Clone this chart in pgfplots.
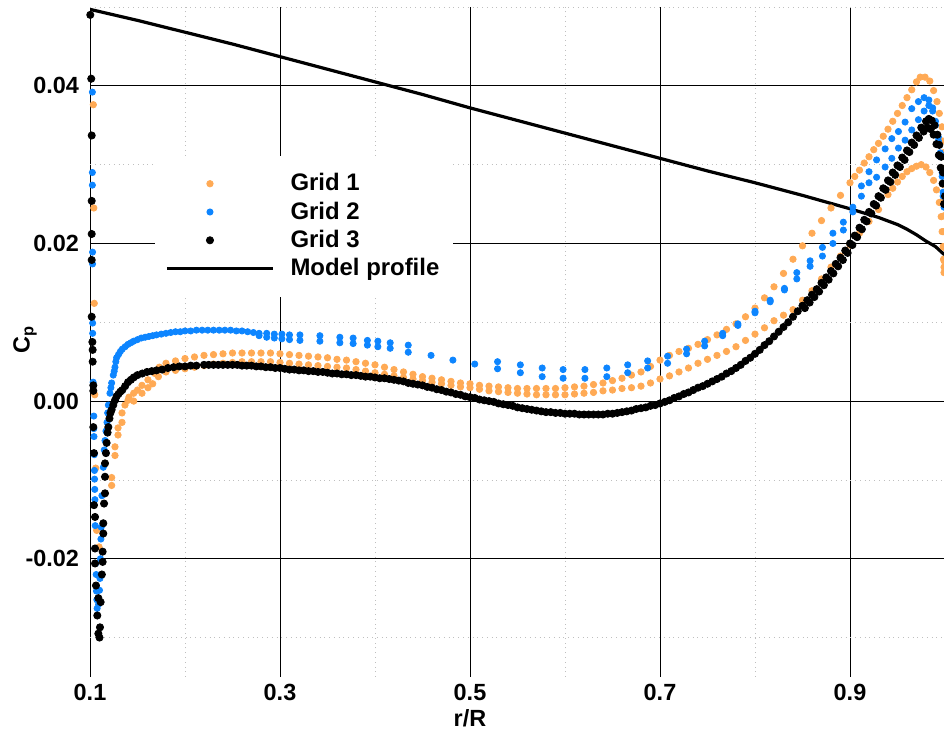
\documentclass[border=0pt]{standalone}
\usepackage{pgfplots}
\usepackage{pgfplotstable}
\pgfplotsset{compat=1.18}
\usepackage{fontspec}
\setmainfont{Liberation Sans}
\setsansfont{Liberation Sans}
\definecolor{gone}{HTML}{FFAA55}
\definecolor{gtwo}{HTML}{0D85FF}
\pgfplotsset{
  dotlegend/.style={legend image code/.code={\draw[##1] plot coordinates {(21.5bp,0bp)};}},
  linelegend/.style={legend image code/.code={\draw[##1] (0bp,0bp) -- (53bp,0bp);}},
}

% Grid 1 -- leading edge cluster
\pgfplotstableread{
x y
0.1035 0.0376
0.1040 0.0245
0.1045 0.0124
0.1050 0.0008
0.1060 -0.0085
0.1070 -0.0164
0.1095 -0.0185
0.1228 -0.0097
0.1228 -0.0107
0.1263 -0.0058
0.1263 -0.0069
0.1295 -0.0034
0.1295 -0.0043
0.1337 -0.0015
0.1337 -0.0027
0.1368 -0.0005
0.1400 0.0001
0.1410 0.0005
0.1460 0.0010
0.1460 0.0000
0.1500 0.0014
0.1547 0.0020
0.1547 0.0010
0.1610 0.0027
0.1610 0.0017
0.1660 0.0022
0.1684 0.0035
0.1720 0.0031
0.1730 0.0043
}\gonele
% Grid 1 -- branch A
\pgfplotstableread{
x y
0.18 0.0048
0.19 0.0051
0.20 0.0054
0.21 0.0056
0.22 0.0058
0.23 0.0059
0.24 0.0060
0.25 0.0061
0.26 0.0061
0.27 0.0061
0.28 0.0061
0.29 0.0061
0.30 0.0060
0.31 0.0059
0.32 0.0058
0.33 0.0057
0.34 0.0056
0.35 0.0055
0.36 0.0053
0.37 0.0052
0.38 0.0050
0.39 0.0048
0.40 0.0046
0.41 0.0043
0.42 0.0040
0.43 0.0037
0.44 0.0034
0.45 0.0031
0.46 0.0029
0.47 0.0027
0.48 0.0025
0.49 0.0023
0.50 0.0022
0.51 0.0020
0.52 0.0019
0.53 0.0018
0.54 0.0017
0.55 0.0016
0.56 0.0016
0.57 0.0016
0.58 0.0016
0.59 0.0016
0.60 0.0017
0.61 0.0018
0.62 0.0019
0.63 0.0021
0.64 0.0023
0.65 0.0026
0.66 0.0029
0.67 0.0033
0.68 0.0037
0.69 0.0044
0.70 0.0052
0.71 0.0058
0.72 0.0063
0.73 0.0067
0.74 0.0072
0.75 0.0078
0.76 0.0084
0.77 0.0091
0.78 0.0098
0.79 0.0107
0.80 0.0118
0.81 0.0131
0.82 0.0145
0.83 0.0162
0.84 0.0180
0.85 0.0197
0.86 0.0213
0.87 0.0229
0.88 0.0245
0.89 0.0261
0.90 0.0277
0.905 0.0285
0.91 0.0293
0.915 0.0302
0.92 0.0310
0.925 0.0319
0.93 0.0327
0.935 0.0336
0.94 0.0345
0.945 0.0355
0.95 0.0365
0.955 0.0375
0.96 0.0385
0.965 0.0395
0.970 0.0405
0.974 0.0411
0.979 0.0411
0.984 0.0406
0.988 0.0394
0.9916 0.0380
0.994 0.0365
0.9968 0.0348
0.9975 0.0330
0.998 0.0315
0.9983 0.0295
0.9985 0.0275
0.9987 0.0255
0.9988 0.0235
0.9989 0.0215
0.999 0.0195
0.999 0.0178
0.999 0.0163
}\gonea
% Grid 1 -- branch B
\pgfplotstableread{
x y
0.18 0.0037
0.19 0.0039
0.20 0.0041
0.21 0.0043
0.22 0.0045
0.23 0.0047
0.24 0.0048
0.25 0.0049
0.26 0.0050
0.27 0.0050
0.28 0.0050
0.29 0.0050
0.30 0.0049
0.31 0.0048
0.32 0.0047
0.33 0.0046
0.34 0.0045
0.35 0.0044
0.36 0.0043
0.37 0.0042
0.38 0.0040
0.39 0.0038
0.40 0.0036
0.41 0.0034
0.42 0.0032
0.43 0.0030
0.44 0.0028
0.45 0.0026
0.46 0.0024
0.47 0.0022
0.48 0.0020
0.49 0.0018
0.50 0.0017
0.51 0.0015
0.52 0.0013
0.53 0.0012
0.54 0.0011
0.55 0.0010
0.56 0.0009
0.57 0.0008
0.58 0.0008
0.59 0.0008
0.60 0.0008
0.61 0.0009
0.62 0.0010
0.63 0.0011
0.64 0.0013
0.65 0.0014
0.66 0.0016
0.67 0.0017
0.68 0.0019
0.69 0.0023
0.70 0.0028
0.71 0.0032
0.72 0.0037
0.73 0.0042
0.74 0.0048
0.75 0.0053
0.76 0.0058
0.77 0.0063
0.78 0.0069
0.79 0.0077
0.80 0.0085
0.81 0.0093
0.82 0.0102
0.83 0.0109
0.84 0.0116
0.85 0.0128
0.86 0.0140
0.87 0.0155
0.88 0.0170
0.89 0.0184
0.90 0.0198
0.91 0.0213
0.92 0.0228
0.93 0.0243
0.94 0.0262
0.945 0.0270
0.95 0.0278
0.955 0.0285
0.96 0.0291
0.965 0.0295
0.970 0.0298
0.975 0.0300
0.980 0.0297
0.984 0.0290
0.988 0.0280
0.991 0.0268
0.994 0.0252
0.996 0.0234
0.997 0.0215
0.998 0.0196
0.9985 0.0180
0.999 0.0170
}\goneb
% Grid 2 -- leading edge, rising part and upper branch
\pgfplotstableread{
x y
0.1025 0.0392
0.1025 0.0290
0.1025 0.0274
0.1027 0.0189
0.1027 0.0174
0.1028 0.0099
0.1028 0.0086
0.1033 0.0024
0.1040 -0.0019
0.1040 -0.0035
0.1042 -0.0045
0.1045 -0.0068
0.1047 -0.0088
0.1048 -0.0099
0.1050 -0.0112
0.1052 -0.0125
0.1055 -0.0158
0.1060 -0.0206
0.1065 -0.0220
0.1068 -0.0241
0.1072 -0.0252
0.1075 -0.0263
0.1090 -0.0258
0.1100 -0.0240
0.1105 -0.0225
0.1110 -0.0200
0.1115 -0.0175
0.1118 -0.0160
0.1125 -0.0120
0.1140 -0.0084
0.1150 -0.0062
0.1158 -0.0050
0.1168 -0.0038
0.1179 -0.0027
0.1186 -0.0015
0.1193 -0.0005
0.1210 0.0010
0.1220 0.0017
0.1228 0.0023
0.1245 0.0033
0.1255 0.0038
0.1263 0.0043
0.1272 0.0050
0.1280 0.0055
0.1300 0.0059
0.1320 0.0063
0.1340 0.0066
0.1370 0.0069
0.1400 0.0072
0.1430 0.0074
0.1460 0.0076
0.1500 0.0078
0.1540 0.0080
0.1580 0.0081
0.1620 0.0082
0.1660 0.0083
0.1700 0.0084
0.1750 0.0085
0.1800 0.0086
0.1850 0.0087
0.1900 0.0088
0.1950 0.0088
0.2000 0.0089
0.2060 0.0089
0.2120 0.0090
0.2180 0.0090
0.2240 0.0090
0.2300 0.0090
0.2360 0.0090
0.2420 0.0090
0.2480 0.0090
0.2540 0.0089
0.2600 0.0089
0.2660 0.0088
0.2720 0.0087
0.2780 0.0086
0.2860 0.0086
0.2940 0.0085
0.3020 0.0085
0.3100 0.0084
0.321 0.0084
0.342 0.0083
0.363 0.0081
0.377 0.0080
0.392 0.0077
0.403 0.0076
0.416 0.0074
0.435 0.0071
0.459 0.0058
0.482 0.0052
0.505 0.0047
0.529 0.0050
0.553 0.0046
0.576 0.0042
0.598 0.0040
0.621 0.0040
0.644 0.0042
0.666 0.0046
0.687 0.0051
0.708 0.0057
0.728 0.0066
0.747 0.0076
0.766 0.0086
0.782 0.0098
0.800 0.0114
0.816 0.0128
0.831 0.0143
0.844 0.0163
0.858 0.0178
0.871 0.0195
0.882 0.0213
0.893 0.0227
0.903 0.0246
0.912 0.0273
0.920 0.0291
0.928 0.0306
0.937 0.0320
0.944 0.0333
0.951 0.0342
0.958 0.0354
0.965 0.0371
0.972 0.0380
0.978 0.0385
0.983 0.0382
0.987 0.0372
0.990 0.0355
0.993 0.0335
0.995 0.0315
0.997 0.0290
0.998 0.0265
0.999 0.0246
}\gtwoa
% Grid 2 -- lower branch
\pgfplotstableread{
x y
0.278 0.0083
0.286 0.0081
0.294 0.0080
0.302 0.0079
0.310 0.0078
0.321 0.0077
0.342 0.0076
0.363 0.0074
0.377 0.0073
0.392 0.0071
0.403 0.0069
0.416 0.0067
0.435 0.0062
0.529 0.0041
0.553 0.0036
0.576 0.0031
0.598 0.0029
0.621 0.0029
0.644 0.0031
0.666 0.0036
0.687 0.0042
0.708 0.0048
0.728 0.0060
0.747 0.0070
0.766 0.0083
0.782 0.0096
0.800 0.0112
0.816 0.0126
0.831 0.0141
0.844 0.0155
0.858 0.0171
0.871 0.0184
0.882 0.0200
0.893 0.0217
0.903 0.0240
0.912 0.0260
0.920 0.0277
0.928 0.0284
0.937 0.0297
0.944 0.0308
0.951 0.0321
0.958 0.0331
0.965 0.0344
0.972 0.0357
0.978 0.0368
0.983 0.0375
0.987 0.0368
0.990 0.0350
0.993 0.0330
0.995 0.0310
0.997 0.0285
0.998 0.0260
}\gtwob
% Grid 3 -- leading edge column, rising part and main branch
\pgfplotstableread{
x y
0.1003 0.0490
0.1013 0.0409
0.1018 0.0337
0.1018 0.0254
0.1018 0.0212
0.1018 0.0179
0.1018 0.0107
0.1025 0.0075
0.1028 0.0065
0.1028 0.0050
0.1035 0.0020
0.1035 0.0013
0.1035 -0.0033
0.1042 -0.0066
0.1042 -0.0132
0.1053 -0.0147
0.1053 -0.0187
0.1053 -0.0206
0.1063 -0.0234
0.1088 -0.0250
0.1077 -0.0272
0.1088 -0.0295
0.1100 -0.0300
0.1105 -0.0287
0.1112 -0.0255
0.1125 -0.0220
0.1133 -0.0204
0.1133 -0.0191
0.1140 -0.0168
0.1140 -0.0155
0.1148 -0.0130
0.1158 -0.0117
0.1158 -0.0096
0.1158 -0.0079
0.1168 -0.0066
0.1175 -0.0053
0.1185 -0.0040
0.1193 -0.0033
0.1205 -0.0022
0.1215 -0.0015
0.1228 -0.0011
0.1245 -0.0005
0.1263 0.0001
0.1280 0.0006
0.1300 0.0009
0.1320 0.0012
0.1340 0.0014
0.1370 0.0019
0.1400 0.0024
0.1430 0.0027
0.1460 0.0030
0.1500 0.0033
0.1550 0.0035
0.1600 0.0037
0.1650 0.0038
0.1700 0.0039
0.1760 0.0040
0.1820 0.0042
0.1880 0.0043
0.1940 0.0044
0.2000 0.0044
0.2060 0.0045
0.2120 0.0045
0.220 0.0046
0.225 0.0046
0.230 0.0046
0.235 0.0046
0.240 0.0046
0.245 0.0046
0.250 0.0046
0.255 0.0046
0.260 0.0045
0.265 0.0045
0.270 0.0045
0.275 0.0044
0.280 0.0044
0.285 0.0043
0.290 0.0043
0.295 0.0042
0.300 0.0042
0.305 0.0041
0.310 0.0040
0.315 0.0040
0.320 0.0039
0.325 0.0039
0.330 0.0038
0.335 0.0038
0.340 0.0037
0.345 0.0037
0.350 0.0036
0.355 0.0035
0.360 0.0035
0.365 0.0034
0.370 0.0034
0.375 0.0033
0.380 0.0033
0.385 0.0032
0.390 0.0031
0.395 0.0031
0.400 0.0030
0.405 0.0029
0.410 0.0029
0.415 0.0028
0.420 0.0027
0.425 0.0026
0.430 0.0025
0.435 0.0023
0.440 0.0022
0.445 0.0021
0.450 0.0020
0.455 0.0018
0.460 0.0017
0.465 0.0015
0.470 0.0014
0.475 0.0012
0.480 0.0011
0.485 0.0009
0.490 0.0008
0.495 0.0006
0.500 0.0005
0.505 0.0004
0.510 0.0002
0.515 0.0001
0.520 0.0000
0.525 -0.0001
0.530 -0.0003
0.535 -0.0004
0.540 -0.0005
0.545 -0.0006
0.550 -0.0008
0.555 -0.0009
0.560 -0.0010
0.565 -0.0011
0.570 -0.0012
0.575 -0.0013
0.580 -0.0014
0.585 -0.0014
0.590 -0.0015
0.595 -0.0015
0.600 -0.0016
0.605 -0.0016
0.610 -0.0016
0.615 -0.0017
0.620 -0.0017
0.625 -0.0017
0.630 -0.0017
0.635 -0.0017
0.640 -0.0017
0.645 -0.0016
0.650 -0.0016
0.655 -0.0015
0.660 -0.0014
0.665 -0.0013
0.670 -0.0012
0.675 -0.0010
0.680 -0.0009
0.685 -0.0008
0.690 -0.0006
0.695 -0.0005
0.700 -0.0003
0.705 -0.0001
0.710 0.0001
0.715 0.0004
0.720 0.0006
0.725 0.0009
0.730 0.0011
0.735 0.0014
0.740 0.0017
0.745 0.0019
0.750 0.0022
0.755 0.0025
0.760 0.0028
0.765 0.0031
0.770 0.0035
0.775 0.0038
0.780 0.0042
0.785 0.0046
0.790 0.0051
0.795 0.0055
0.800 0.0060
0.805 0.0065
0.810 0.0071
0.815 0.0076
0.820 0.0082
0.825 0.0088
0.830 0.0094
0.835 0.0100
0.840 0.0107
0.845 0.0114
0.850 0.0121
0.855 0.0128
0.860 0.0135
0.865 0.0142
0.870 0.0150
0.875 0.0157
0.880 0.0165
0.885 0.0174
0.890 0.0182
0.895 0.0191
0.900 0.0200
0.905 0.0210
0.910 0.0220
0.915 0.0230
0.920 0.0240
0.925 0.0250
0.930 0.0260
0.935 0.0270
0.940 0.0280
0.945 0.0290
0.950 0.0299
0.955 0.0309
0.960 0.0318
0.965 0.0328
0.970 0.0337
0.975 0.0347
0.980 0.0355
0.983 0.0358
0.986 0.0356
0.989 0.0350
0.992 0.0338
0.994 0.0325
0.996 0.0310
0.998 0.0290
1.000 0.0260
}\gthreea
% Grid 3 -- second branch near the trailing edge
\pgfplotstableread{
x y
0.8525 0.0118
0.8575 0.0125
0.8625 0.0132
0.8675 0.0139
0.8725 0.0147
0.8775 0.0154
0.8825 0.0162
0.8875 0.0171
0.8925 0.0179
0.8975 0.0188
0.9025 0.0198
0.9075 0.0208
0.9125 0.0218
0.9175 0.0228
0.9225 0.0238
0.9275 0.0248
0.9325 0.0258
0.9375 0.0268
0.9425 0.0278
0.9475 0.0287
0.9525 0.0297
0.9575 0.0306
0.9625 0.0316
0.9675 0.0325
0.9725 0.0334
0.9775 0.0342
0.9815 0.0347
0.9850 0.0345
0.9880 0.0338
0.9910 0.0326
0.9935 0.0312
0.9955 0.0296
0.9975 0.0276
0.9990 0.0250
}\gthreeb
% Model profile
\pgfplotstableread{
x y
0.10 0.0497
0.15 0.0483
0.20 0.0468
0.25 0.0453
0.30 0.0437
0.35 0.0421
0.40 0.0405
0.45 0.0389
0.50 0.0372
0.55 0.0356
0.60 0.0340
0.65 0.0324
0.70 0.0308
0.75 0.0292
0.80 0.0277
0.85 0.0261
0.90 0.0244
0.93 0.0233
0.95 0.0224
0.96 0.0218
0.97 0.0211
0.98 0.0203
0.99 0.0196
1.00 0.0185
}\model

\begin{document}
\begin{tikzpicture}
\begin{axis}[
  scale only axis,
  width=427.5bp, height=335bp,
  xmin=0.1, xmax=1.0, ymin=-0.035, ymax=0.05,
  axis line style={draw=none},
  xtick={0.1,0.3,0.5,0.7,0.9},
  minor xtick={0.2,0.4,0.6,0.8,1.0},
  ytick={-0.02,0,0.02,0.04},
  minor ytick={-0.03,-0.01,0.01,0.03,0.05},
  grid=both,
  major grid style={black, line width=0.5bp},
  minor grid style={black!25, dotted, line width=0.4bp},
  major tick length=0pt, minor tick length=0pt,
  tick style={draw=none},
  /pgf/number format/assume math mode=true,
  tick label style={font=\fontsize{11.75}{13}\selectfont\bfseries},
  xticklabel style={/pgf/number format/.cd, fixed, fixed zerofill, precision=1},
  yticklabel style={/pgf/number format/.cd, fixed, fixed zerofill, precision=2, /tikz/xshift=-2bp},
  scaled y ticks=false,
  xlabel={r/R},
  ylabel={C\textsubscript{p}},
  label style={font=\fontsize{11.75}{13}\selectfont\bfseries},
  xlabel style={at={(axis cs:0.5,-0.035)}, anchor=north, yshift=-13bp},
  ylabel style={at={(axis description cs:-0.076,0.504)}, anchor=center},
  legend style={at={(axis cs:0.1684,0.0312)}, anchor=north west, draw=none, fill=white,
    font=\fontsize{12}{13}\selectfont\bfseries, inner xsep=5bp, inner ysep=7bp,
    row sep=0bp, cells={anchor=west},
    /tikz/every odd column/.style={column sep=6bp}},
  legend cell align=left,
]
\addplot[gone, only marks, mark=*, mark size=1.6bp, dotlegend] table {\gonea};
\addlegendentry{Grid 1}
\addplot[gone, only marks, mark=*, mark size=1.6bp, forget plot] table {\goneb};
\addplot[gone, only marks, mark=*, mark size=1.6bp, forget plot] table {\gonele};
\addplot[gtwo, only marks, mark=*, mark size=1.55bp, dotlegend] table {\gtwoa};
\addlegendentry{Grid 2}
\addplot[gtwo, only marks, mark=*, mark size=1.55bp, forget plot] table {\gtwob};
\addplot[black, only marks, mark=*, mark size=1.8bp, dotlegend] table {\gthreea};
\addlegendentry{Grid 3}
\addplot[black, only marks, mark=*, mark size=1.8bp, forget plot] table {\gthreeb};
\addplot[black, line width=1.6bp, no marks, linelegend] table {\model};
\addlegendentry{Model profile}
\end{axis}
\pgfresetboundingbox
\useasboundingbox ([xshift=-45bp,yshift=-27.5bp]current axis.south west) rectangle ([xshift=-0.5bp,yshift=3.5bp]current axis.north east);
\end{tikzpicture}
\end{document}
